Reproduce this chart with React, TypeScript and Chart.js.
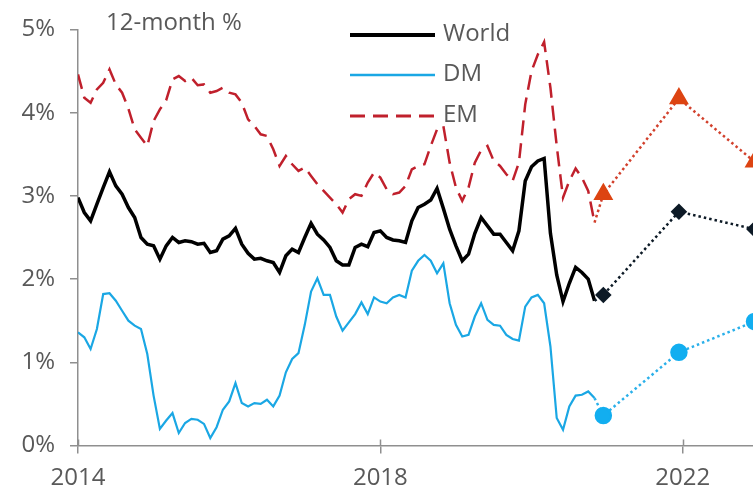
import React, { useEffect, useRef } from "react";
import { Chart, registerables } from "chart.js";

Chart.register(...registerables);

// Monthly inflation, 12-month % change, starting January 2014
const START_YEAR = 2014;

const worldMonthly = [
  2.98, 2.8, 2.7, 2.9, 3.1, 3.29, 3.12, 3.02, 2.86, 2.74,
  2.5, 2.42, 2.4, 2.24, 2.4, 2.5, 2.44, 2.46, 2.45, 2.42,
  2.43, 2.32, 2.34, 2.48, 2.52, 2.61, 2.42, 2.31, 2.24, 2.25,
  2.22, 2.2, 2.08, 2.28, 2.36, 2.32, 2.5, 2.67, 2.54, 2.47,
  2.38, 2.22, 2.17, 2.17, 2.38, 2.42, 2.39, 2.56, 2.58, 2.5,
  2.47, 2.46, 2.44, 2.7, 2.86, 2.9, 2.95, 3.09, 2.85, 2.6,
  2.4, 2.22, 2.3, 2.55, 2.74, 2.64, 2.54, 2.54, 2.44, 2.34,
  2.58, 3.18, 3.35, 3.42, 3.45, 2.55, 2.05, 1.73, 1.95, 2.14,
  2.08, 2.0, 1.74,
];

const dmMonthly = [
  1.36, 1.3, 1.16, 1.4, 1.82, 1.83, 1.74, 1.62, 1.5, 1.44,
  1.4, 1.1, 0.6, 0.2, 0.3, 0.39, 0.15, 0.27, 0.32, 0.31,
  0.26, 0.09, 0.22, 0.43, 0.53, 0.75, 0.51, 0.47, 0.51, 0.5,
  0.55, 0.47, 0.6, 0.88, 1.04, 1.11, 1.45, 1.85, 2.01, 1.81,
  1.81, 1.55, 1.38, 1.48, 1.58, 1.72, 1.58, 1.78, 1.73, 1.71,
  1.78, 1.81, 1.78, 2.1, 2.22, 2.29, 2.22, 2.07, 2.19, 1.71,
  1.45, 1.31, 1.33, 1.55, 1.71, 1.51, 1.45, 1.44, 1.33, 1.28,
  1.26, 1.67, 1.78, 1.81, 1.71, 1.19, 0.33, 0.19, 0.47, 0.6,
  0.61, 0.65, 0.57,
];

const emMonthly = [
  4.46, 4.18, 4.12, 4.28, 4.36, 4.52, 4.34, 4.24, 4.05, 3.8,
  3.7, 3.6, 3.9, 4.04, 4.15, 4.4, 4.44, 4.38, 4.42, 4.33,
  4.34, 4.24, 4.26, 4.3, 4.24, 4.22, 4.12, 3.92, 3.84, 3.74,
  3.72, 3.56, 3.36, 3.48, 3.38, 3.3, 3.34, 3.24, 3.14, 3.06,
  2.98, 2.9, 2.8, 2.96, 3.02, 3.0, 3.16, 3.28, 3.22, 3.08,
  3.02, 3.04, 3.12, 3.32, 3.36, 3.38, 3.6, 3.8, 3.84, 3.4,
  3.1, 2.94, 3.1, 3.4, 3.55, 3.6, 3.42, 3.36, 3.26, 3.18,
  3.4, 4.1, 4.5, 4.7, 4.85, 4.3, 3.6, 2.98, 3.18, 3.33,
  3.22, 3.06, 2.68,
];

// Year-end forecasts (decimal years)
const forecastYears = [2020.95, 2021.95, 2022.95];
const worldForecast = [1.81, 2.81, 2.6];
const dmForecast = [0.36, 1.12, 1.49];
const emForecast = [3.02, 4.17, 3.41];

const xTickYears = [2014, 2018, 2022];
const yTickValues = [0, 1, 2, 3, 4, 5];
const seriesNames = ["World", "DM", "EM"];
const unitNote = "12-month %";

const FONT = "'Open Sans', 'Noto Sans', sans-serif";
const TEXT_COLOR = "#595959";
const AXIS_COLOR = "#8f8f8f";
const WORLD_COLOR = "#000000";
const DM_COLOR = "#1aa7e4";
const EM_COLOR = "#c0202c";
const EM_DASH = [15, 8];

const monthX = (i: number) => START_YEAR + i / 12;
const toPoints = (vals: number[]) => vals.map((v, i) => ({ x: monthX(i), y: v }));
const forecastPoints = (monthly: number[], fc: number[]) => [
  { x: monthX(monthly.length - 1), y: monthly[monthly.length - 1] },
  ...fc.map((v, i) => ({ x: forecastYears[i], y: v })),
];

const legendItems = [
  { name: seriesNames[0], color: WORLD_COLOR, width: 4, dash: [] as number[] },
  { name: seriesNames[1], color: DM_COLOR, width: 2.5, dash: [] as number[] },
  { name: seriesNames[2], color: EM_COLOR, width: 3, dash: EM_DASH },
];

const overlayPlugin = {
  id: "overlay",
  afterDraw(chart: any) {
    const { ctx, chartArea, scales } = chart;
    const x = scales.x;
    ctx.save();
    // tick marks rising above the x axis
    ctx.strokeStyle = AXIS_COLOR;
    ctx.lineWidth = 1.5;
    xTickYears.forEach((yr) => {
      const px = Math.round(x.getPixelForValue(yr)) + 0.5;
      ctx.beginPath();
      ctx.moveTo(px, chartArea.bottom - 6);
      ctx.lineTo(px, chartArea.bottom);
      ctx.stroke();
    });

    // unit note
    ctx.font = `24px ${FONT}`;
    ctx.fillStyle = TEXT_COLOR;
    ctx.textBaseline = "middle";
    ctx.textAlign = "left";
    ctx.fillText(unitNote, chartArea.left + 28, 23);

    // legend
    const lx0 = 350;
    const lx1 = 435;
    const rows = [35, 75, 116];
    legendItems.forEach((it, i) => {
      const y = rows[i];
      ctx.beginPath();
      ctx.setLineDash(it.dash);
      ctx.strokeStyle = it.color;
      ctx.lineWidth = it.width;
      ctx.moveTo(lx0, y);
      ctx.lineTo(lx1, y);
      ctx.stroke();
      ctx.setLineDash([]);
      ctx.fillStyle = TEXT_COLOR;
      ctx.fillText(it.name, 443, y - 1);
    });
    ctx.restore();
  },
};

export default function App() {
  const canvasRef = useRef<HTMLCanvasElement | null>(null);

  useEffect(() => {
    document.body.style.margin = "0";
    const canvas = canvasRef.current;
    if (!canvas) return;

    const chart = new Chart(canvas, {
      type: "line",
      data: {
        datasets: [
          {
            label: "EM forecast",
            data: forecastPoints(emMonthly, emForecast),
            borderColor: "#d2402c",
            borderWidth: 2.5,
            borderDash: [2.5, 3],
            pointStyle: "triangle",
            pointRadius: [0, 9, 9, 9],
            pointBackgroundColor: "#dd4412",
            pointBorderColor: "#dd4412",
            clip: false,
          },
          {
            label: "World forecast",
            data: forecastPoints(worldMonthly, worldForecast),
            borderColor: "#0d1a26",
            borderWidth: 2.5,
            borderDash: [2.5, 3],
            pointStyle: "rectRot",
            pointRadius: [0, 6.5, 6.5, 6.5],
            pointBackgroundColor: "#0d1a26",
            pointBorderColor: "#0d1a26",
            clip: false,
          },
          {
            label: "DM forecast",
            data: forecastPoints(dmMonthly, dmForecast),
            borderColor: "#2ab0ea",
            borderWidth: 2.5,
            borderDash: [2.5, 3],
            pointStyle: "circle",
            pointRadius: [0, 7.5, 7.5, 7.5],
            pointBackgroundColor: "#12aef0",
            pointBorderColor: "#12aef0",
            clip: false,
          },
          {
            label: seriesNames[2],
            data: toPoints(emMonthly),
            borderColor: EM_COLOR,
            borderWidth: 2.5,
            borderDash: EM_DASH,
            pointRadius: 0,
            tension: 0,
          },
          {
            label: seriesNames[1],
            data: toPoints(dmMonthly),
            borderColor: DM_COLOR,
            borderWidth: 2.2,
            pointRadius: 0,
            tension: 0,
          },
          {
            label: seriesNames[0],
            data: toPoints(worldMonthly),
            borderColor: WORLD_COLOR,
            borderWidth: 3.5,
            pointRadius: 0,
            tension: 0,
          },
        ],
      },
      options: {
        animation: false,
        responsive: false,
        events: [],
        layout: { autoPadding: false, padding: { top: 29.5, right: 0, left: 0, bottom: 0 } },
        plugins: {
          legend: { display: false },
          tooltip: { enabled: false },
        },
        scales: {
          x: {
            type: "linear",
            min: START_YEAR,
            max: 2022.93,
            afterBuildTicks: (scale: any) => {
              scale.ticks = xTickYears.map((v) => ({ value: v }));
            },
            afterFit: (scale: any) => {
              scale.height = 43.5;
            },
            grid: {
              drawOnChartArea: false,
              drawTicks: true,
              tickLength: 8,
              color: AXIS_COLOR,
              lineWidth: 1.5,
            },
            border: { display: true, color: AXIS_COLOR, width: 1.5 },
            ticks: {
              autoSkip: false,
              maxRotation: 0,
              padding: 10,
              color: TEXT_COLOR,
              font: { family: FONT, size: 24 },
              callback: (v: any) => String(v),
            },
          },
          y: {
            min: 0,
            max: 5,
            afterBuildTicks: (scale: any) => {
              scale.ticks = yTickValues.map((v) => ({ value: v }));
            },
            afterFit: (scale: any) => {
              scale.width = 78;
            },
            grid: {
              drawOnChartArea: false,
              drawTicks: true,
              tickLength: 8,
              color: AXIS_COLOR,
              lineWidth: 1.5,
            },
            border: { display: true, color: AXIS_COLOR, width: 1.5 },
            ticks: {
              padding: 15,
              color: TEXT_COLOR,
              font: { family: FONT, size: 24 },
              callback: (v: any) => `${v}%`,
            },
          },
        },
      },
      plugins: [overlayPlugin],
    });

    return () => chart.destroy();
  }, []);

  return (
    <div style={{ width: 753, height: 489, overflow: "hidden", background: "#fff" }}>
      <canvas ref={canvasRef} width={753} height={489} style={{ display: "block" }} />
    </div>
  );
}
